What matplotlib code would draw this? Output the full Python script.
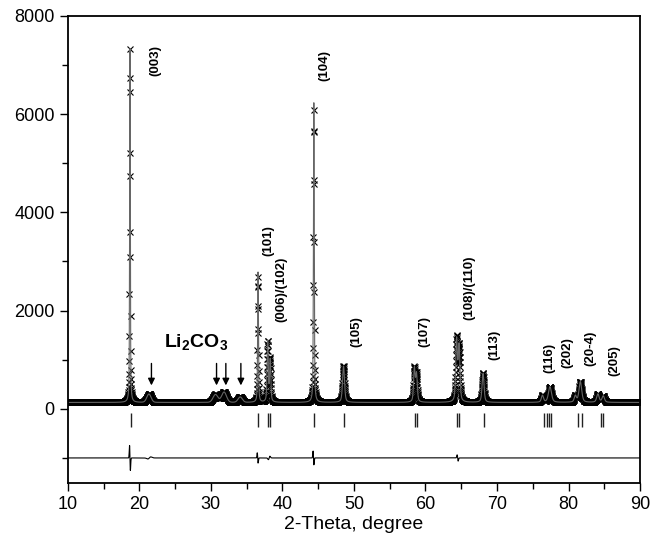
import numpy as np
import matplotlib
matplotlib.use("Agg")
import matplotlib.pyplot as plt
from matplotlib.ticker import MultipleLocator

plt.rcParams['font.family'] = ['Liberation Sans', 'DejaVu Sans']
plt.rcParams['mathtext.fontset'] = 'custom'
plt.rcParams['mathtext.rm'] = 'Liberation Sans'
plt.rcParams['mathtext.bf'] = 'Liberation Sans:bold'

# ---- data ----
background = 130
# main phase reflections: position (2-theta), height above background, FWHM
peak_pos = [18.70, 36.60, 37.95, 38.30, 44.40, 48.55, 58.45, 58.75,
            64.35, 64.70, 68.05, 76.35, 77.40, 80.95, 81.65, 84.10, 84.85]
peak_height = [7200, 2650, 1250, 850, 6100, 740, 680, 560,
               1250, 1120, 590, 140, 320, 130, 420, 170, 130]
peak_fwhm = [0.11, 0.13, 0.2, 0.2, 0.13, 0.32, 0.26, 0.26,
             0.28, 0.28, 0.32, 0.35, 0.5, 0.35, 0.45, 0.4, 0.4]
# Li2CO3 impurity humps
imp_pos = [21.35, 30.65, 31.85, 34.10]
imp_height = [170, 160, 210, 110]
imp_fwhm = [0.7, 0.8, 0.8, 0.7]
arrow_pos = [21.7, 30.8, 32.1, 34.2]

# Bragg positions
bragg = [18.85, 36.65, 37.95, 38.30, 44.40, 48.60, 58.50, 58.75, 64.35, 64.65,
         68.15, 76.60, 76.95, 77.25, 77.55, 81.30, 81.90, 84.50, 84.85]

# residual features: position, amplitude, width
diff_pos = [18.70, 36.55, 44.35, 64.50, 38.15, 21.4]
diff_amp = [360, 150, 200, 90, -50, -30]
diff_w = [0.08, 0.08, 0.08, 0.1, 0.15, 0.3]

labels = ['(003)', '(101)', '(006)/(102)', '(104)', '(105)', '(107)',
          '(108)/(110)', '(113)', '(116)', '(202)', '(20-4)', '(205)']
label_x = [22.3, 38.0, 39.9, 45.9, 50.3, 59.8, 66.2, 69.7, 77.3, 79.9, 83.1, 86.4]
label_y = [7100, 3430, 2430, 6980, 1580, 1580, 2460, 1300, 1040, 1140, 1240, 980]


def pv(x, x0, h, w, eta=0.5):
    g = np.exp(-4 * np.log(2) * (x - x0) ** 2 / w ** 2)
    l = 1 / (1 + 4 * (x - x0) ** 2 / w ** 2)
    return h * (eta * l + (1 - eta) * g)


tt = np.arange(10, 90.001, 0.02)
calc = np.full_like(tt, background, dtype=float)
for p, h, w in zip(peak_pos, peak_height, peak_fwhm):
    calc += pv(tt, p, h, w)
for p, h, w in zip(imp_pos, imp_height, imp_fwhm):
    calc += pv(tt, p, h, w, eta=0.1)

diff = np.zeros_like(tt)
for p, a, w in zip(diff_pos, diff_amp, diff_w):
    u = (tt - p) / w
    diff += -a * 1.65 * u * np.exp(-u ** 2)
obs = calc + diff

fig = plt.figure(figsize=(6.64, 5.47), dpi=100)
ax = fig.add_axes([0.102, 0.117, 0.862, 0.854])

ax.plot(tt, obs, linestyle='none', marker='x', markersize=4.5,
        markeredgewidth=0.8, color='black')
ax.plot(tt, calc, color='#666666', linewidth=0.8)
ax.vlines(bragg, -360, -90, color='#222222', linewidth=1.0)
ax.plot(tt, diff - 1000, color='black', linewidth=0.8)

for t, lx, ly in zip(labels, label_x, label_y):
    ax.text(lx, ly, t, rotation=90, ha='center', va='center',
            fontsize=9.5, fontweight='bold')

ax.text(28.0, 1370, r'$\mathbf{Li_2CO_3}$', ha='center', va='center', fontsize=14)
for a in arrow_pos:
    ax.annotate('', xy=(a, 420), xytext=(a, 980),
                arrowprops=dict(arrowstyle='-|>', color='black', lw=1.0,
                                mutation_scale=10))

ax.set_xlim(10, 90)
ax.set_ylim(-1510, 8000)
ax.xaxis.set_major_locator(MultipleLocator(10))
ax.xaxis.set_minor_locator(MultipleLocator(5))
ax.yaxis.set_major_locator(MultipleLocator(2000))
ax.yaxis.set_minor_locator(MultipleLocator(1000))
ax.tick_params(which='both', direction='out', top=False, right=False,
               labelsize=13, width=1.0)
ax.tick_params(which='major', length=6)
ax.tick_params(which='minor', length=4)
for s in ax.spines.values():
    s.set_linewidth(1.3)
ax.set_xlabel('2-Theta, degree', fontsize=14, labelpad=2)

fig.savefig('out.png', dpi=100)
